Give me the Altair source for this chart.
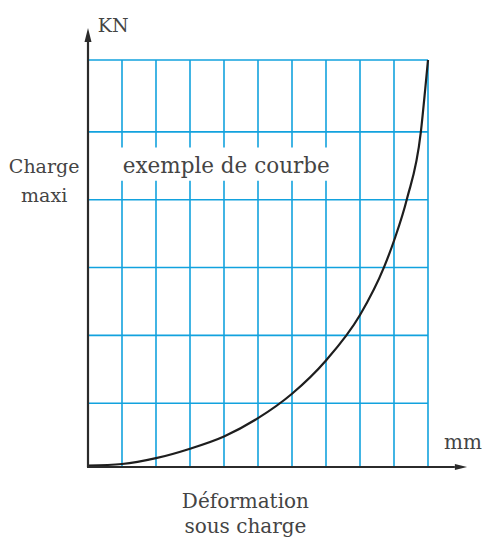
import altair as alt
import pandas as pd

# ---- data ----
deformation = [0, 1, 2, 3, 4, 5, 6, 7, 8, 8.71, 9.01, 9.38, 9.79, 9.92, 10]
charge = [0.02, 0.044, 0.13, 0.27, 0.45, 0.72, 1.08, 1.57, 2.24, 2.95, 3.35, 3.95, 4.94, 5.58, 6.0]

x_grid = [1, 2, 3, 4, 5, 6, 7, 8, 9, 10]
y_grid = [0.94, 1.94, 2.94, 3.94, 4.94, 6]

label_text = ["KN", "Charge", "maxi", "exemple de courbe", "mm", "Déformation", "sous charge"]
label_x = [0.29, -1.29, -1.29, 1.02, 10.47, 4.63, 4.63]
label_y = [6.41, 4.33, 3.90, 4.33, 0.26, -0.61, -0.98]
label_group = ["kn", "side", "side", "note", "mm", "bottom", "bottom"]

box_x = [0.88]
box_x2 = [7.26]
box_y = [4.22]
box_y2 = [4.71]

yaxis_top = 6.27
xaxis_end = 10.79
arrow_x = [0, 10.97]
arrow_y = [6.37, 0]
arrow_dir = ["up", "right"]

BLUE = "#12a2de"
INK = "#2b2b2b"
FONT = "DejaVu Serif"
TXT = "#444444"

xs = alt.Scale(domain=[0, 10], nice=False, zero=False)
ys = alt.Scale(domain=[0, 6], nice=False, zero=False)
X = lambda f="x": alt.X(f"{f}:Q", scale=xs, axis=None)
Y = lambda f="y": alt.Y(f"{f}:Q", scale=ys, axis=None)

curve_df = pd.DataFrame({"x": deformation, "y": charge})
vgrid_df = pd.DataFrame({"x": x_grid, "y": [0] * len(x_grid), "y2": [6] * len(x_grid)})
hgrid_df = pd.DataFrame({"y": y_grid, "x": [0] * len(y_grid), "x2": [10] * len(y_grid)})
lab_df = pd.DataFrame({"t": label_text, "x": label_x, "y": label_y, "g": label_group})
box_df = pd.DataFrame({"x": box_x, "x2": box_x2, "y": box_y, "y2": box_y2})
arr_df = pd.DataFrame({"x": arrow_x, "y": arrow_y, "d": arrow_dir})

vgrid = alt.Chart(vgrid_df).mark_rule(color=BLUE, strokeWidth=1.6).encode(
    x=X(), y=Y(), y2="y2:Q")
hgrid = alt.Chart(hgrid_df).mark_rule(color=BLUE, strokeWidth=1.6).encode(
    y=Y(), x=X(), x2="x2:Q")

box = alt.Chart(box_df).mark_rect(color="white").encode(
    x=X(), x2="x2:Q", y=Y(), y2="y2:Q")

curve = alt.Chart(curve_df).mark_line(color="#1e1e1e", strokeWidth=2.2, interpolate="monotone").encode(
    x=X(), y=Y())

yaxis = alt.Chart(pd.DataFrame({"x": [0], "y": [0], "y2": [yaxis_top]})).mark_rule(
    color=INK, strokeWidth=2.2).encode(x=X(), y=Y(), y2="y2:Q")
xaxis = alt.Chart(pd.DataFrame({"x": [-0.03], "x2": [xaxis_end], "y": [0]})).mark_rule(
    color=INK, strokeWidth=2.2).encode(x=X(), x2="x2:Q", y=Y())

arrow_up = alt.Chart(arr_df).transform_filter(alt.datum.d == "up").mark_point(
    shape="M0,-1L0.5,1L-0.5,1Z", filled=True, color=INK, opacity=1, size=196, strokeWidth=0).encode(
    x=X(), y=Y())
arrow_right = alt.Chart(arr_df).transform_filter(alt.datum.d == "right").mark_point(
    shape="M1,0L-1,-0.5L-1,0.5Z", filled=True, color=INK, opacity=1, size=150, strokeWidth=0).encode(
    x=X(), y=Y())


def text_layer(group, align, size):
    return alt.Chart(lab_df).transform_filter(alt.datum.g == group).mark_text(
        font=FONT, fontSize=size, color=TXT, align=align, baseline="alphabetic").encode(
        x=X(), y=Y(), text="t:N")


chart = alt.layer(
    vgrid, hgrid, box, curve, yaxis, xaxis, arrow_up, arrow_right,
    text_layer("kn", "left", 19),
    text_layer("side", "center", 19),
    text_layer("note", "left", 21.5),
    text_layer("mm", "left", 20),
    text_layer("bottom", "center", 20),
).properties(
    width=340, height=407,
    autosize=alt.AutoSizeParams(type="none"),
    padding={"left": 80, "top": 52, "right": 54, "bottom": 72},
    background="white",
).configure_view(stroke=None)

chart.save("out.html", embed_options={"renderer": "svg", "actions": False})
